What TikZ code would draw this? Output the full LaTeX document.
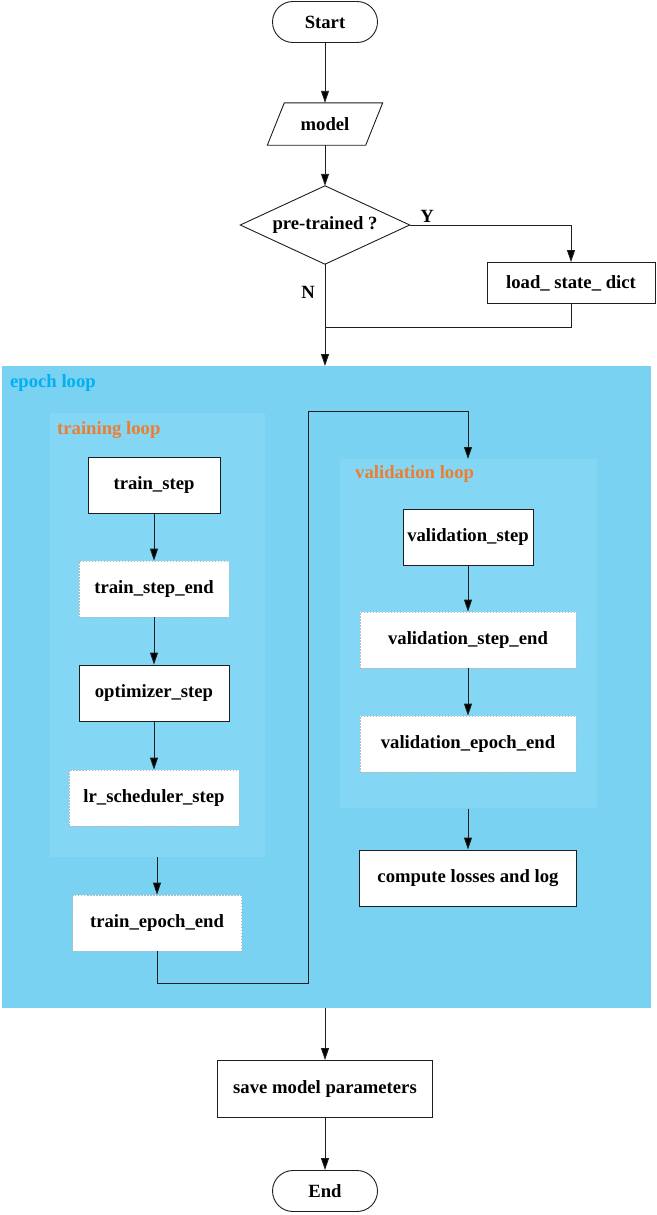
\documentclass[tikz,border=0pt]{standalone}
\usepackage{fontspec}
\setmainfont{Liberation Serif}
\usetikzlibrary{arrows.meta}
\definecolor{epochbg}{RGB}{122,210,243}
\definecolor{innerbg}{RGB}{131,215,244}
\definecolor{epochtxt}{RGB}{0,176,240}
\definecolor{looptxt}{RGB}{237,125,49}
\definecolor{dashgray}{RGB}{185,185,185}
\definecolor{linegray}{RGB}{30,30,30}
\begin{document}
\begin{tikzpicture}[x=1pt,y=-1pt,
  every node/.style={font=\fontsize{18.67}{22}\selectfont\bfseries, inner sep=0pt},
  solidbox/.style={draw=linegray, line width=0.9pt, fill=white, minimum width=#1, minimum height=56pt},
  softbox/.style={draw=dashgray, dash pattern=on 1.5pt off 1.5pt, line width=0.7pt, fill=white, minimum width=#1, minimum height=56pt},
  termbox/.style={draw=linegray, line width=0.9pt, fill=white, rounded corners=20.5pt, minimum width=105pt, minimum height=41pt},
  conn/.style={draw=linegray, line width=0.9pt},
  arr/.style={conn, -{Triangle[length=12pt,width=8pt,fill=black]}},
  grouplabel/.style={anchor=west}
]
\fill[white] (0,0) rectangle (656,1215);
\useasboundingbox (0,0) rectangle (656,1215);

% background regions
\fill[epochbg] (2,366) rectangle (651,1008);
\fill[innerbg] (50,413) rectangle (265,857);
\fill[innerbg] (340,459) rectangle (597,808);

% top part
\node[termbox] (start) at (325,22) {Start};
\node[minimum width=115pt, minimum height=42pt] (model) at (325,124) {model};
\draw[conn] ([xshift=17pt]model.north west) -- (model.north east) -- ([xshift=-17pt]model.south east) -- (model.south west) -- cycle;
\node[minimum width=169pt, minimum height=78pt] (pre) at (325,225) {pre-trained ?};
\draw[conn] (pre.north) -- (pre.east) -- (pre.south) -- (pre.west) -- cycle;
\node[solidbox=168pt, minimum height=41pt] (load) at (571,283) {load\_ state\_ dict};
\node (ylab) at (427,216) {Y};
\node (nlab) at (308,292) {N};

\coordinate (epochin) at (325,366);
\coordinate (join) at (325,327);

\draw[arr] (start) -- (model);
\draw[arr] (model) -- (pre);
\draw[arr] (pre.east) -| (load.north);
\draw[arr] (pre.south) -- (epochin);
\draw[conn] (load.south) |- (join);

% group labels
\node[grouplabel, text=epochtxt] (eplab) at (10,383) {epoch loop};
\node[grouplabel, text=looptxt] (trlab) at (57,430) {training loop};
\node[grouplabel, text=looptxt] (vallab) at (355,474) {validation loop};

% training loop
\node[solidbox=132pt] (ts) at (154,485) {train\_step};
\node[softbox=150pt] (tse) at (154,589) {train\_step\_end};
\node[solidbox=150pt] (opt) at (154,693) {optimizer\_step};
\node[softbox=170pt] (lrs) at (154,798) {lr\_scheduler\_step};
\node[softbox=169pt] (tee) at (157,923) {train\_epoch\_end};
\coordinate (trainout) at (157,857);

\draw[arr] (ts) -- (tse);
\draw[arr] (tse) -- (opt);
\draw[arr] (opt) -- (lrs);
\draw[arr] (trainout) -- (tee.north);

% validation loop
\coordinate (valin) at (468,459);
\coordinate (c1) at (157,983);
\coordinate (c2) at (308,983);
\coordinate (c3) at (308,411);
\coordinate (c4) at (468,411);
\draw[arr] (tee.south) -- (c1) -- (c2) -- (c3) -- (c4) -- (valin);

\node[solidbox=130pt] (vs) at (468,537) {validation\_step};
\node[softbox=216pt] (vse) at (468,640) {validation\_step\_end};
\node[softbox=216pt] (vee) at (468,744) {validation\_epoch\_end};
\node[solidbox=217pt] (cl) at (468,878) {compute losses and log};
\coordinate (valout) at (468,809);

\draw[arr] (vs) -- (vse);
\draw[arr] (vse) -- (vee);
\draw[arr] (valout) -- (cl.north);

% bottom
\coordinate (epochout) at (325,1008);
\node[solidbox=215pt, minimum height=57pt] (save) at (325,1089) {save model parameters};
\node[termbox] (end) at (325,1191) {End};
\draw[arr] (epochout) -- (save.north);
\draw[arr] (save) -- (end);
\end{tikzpicture}
\end{document}
